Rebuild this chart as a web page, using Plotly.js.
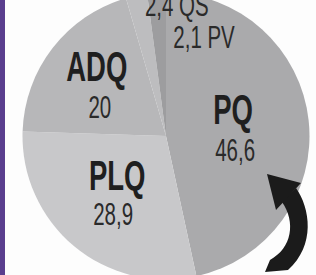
<!DOCTYPE html>
<html>
<head>
<meta charset="utf-8">
<script src="https://cdn.plot.ly/plotly-3.0.1.min.js"></script>
<style>
  html, body { margin:0; padding:0; width:316px; height:275px; overflow:hidden; background:#fdfdfd; }
  #bar { position:absolute; left:0; top:0; width:5px; height:275px; background:#5a3e8e; z-index:2; }
  #chart { position:absolute; left:0; top:-14px; width:316px; height:300px; }
  #chart text.annotation-text { transform-box: fill-box; transform-origin: center; transform: scaleX(0.64); }
</style>
</head>
<body>
<div id="bar"></div>
<div id="chart"></div>
<script>
// ---- data ----
const labels = ['PQ', 'PLQ', 'ADQ', 'QS', 'PV'];
const values = [46.6, 28.9, 20, 2.4, 2.1];

// ---- style ----
const colors = ['#aaaaac', '#c8c8ca', '#b7b7b9', '#bdbdbf', '#9d9d9f'];
const W = 316, H = 300, OFFY = -14;
const px = x => x / W;
const py = y => 1 - (y - OFFY) / H;
const fmt = v => String(v).replace('.', ',');
const FONT = 'Liberation Sans, Arial, sans-serif';

// label positions (page pixels) for name / value per slice
const namePos = { PQ: [233, 109], PLQ: [117, 175], ADQ: [97, 66] };
const valPos  = { PQ: [235, 150], PLQ: [113, 214], ADQ: [100, 107] };
const smallPos = { QS: [177, 5], PV: [204, 37] };

const annotations = [];
labels.forEach((lab, i) => {
  if (namePos[lab]) {
    annotations.push({ text: '<b>' + lab + '</b>', x: px(namePos[lab][0]), y: py(namePos[lab][1]),
      xref: 'paper', yref: 'paper', showarrow: false, xanchor: 'center', yanchor: 'middle',
      font: { family: FONT, size: 43, color: '#1f1f1f' } });
    annotations.push({ text: fmt(values[i]), x: px(valPos[lab][0]), y: py(valPos[lab][1]),
      xref: 'paper', yref: 'paper', showarrow: false, xanchor: 'center', yanchor: 'middle',
      font: { family: FONT, size: 32, color: '#2a2a2a' } });
  } else {
    annotations.push({ text: fmt(values[i]) + ' ' + lab, x: px(smallPos[lab][0]), y: py(smallPos[lab][1]),
      xref: 'paper', yref: 'paper', showarrow: false, xanchor: 'center', yanchor: 'middle',
      font: { family: FONT, size: 32, color: '#2a2a2a' } });
  }
});

function path(pts) {
  return pts.map(p => px(p[0]).toFixed(4) + ',' + py(p[1]).toFixed(4)).join(' ');
}
const shaft = 'M ' + path([[296,188]]) + ' C ' + path([[310,208],[316,245],[288,270]]) +
  ' L ' + path([[265,272]]) + ' L ' + path([[270,260]]) + ' C ' + path([[292,248],[296,222],[282,202]]) + ' Z';
const head = 'M ' + path([[267,174]]) + ' L ' + path([[301,183]]) + ' L ' + path([[276,210]]) + ' Z';

const trace = {
  type: 'pie',
  labels: labels,
  values: values,
  sort: false,
  direction: 'clockwise',
  rotation: 0,
  textinfo: 'none',
  hoverinfo: 'label+value',
  marker: { colors: colors, line: { width: 0 } },
  domain: { x: [(166 - 143.5) / W, (166 + 143.5) / W], y: [0.5 - 143.5 / H, 0.5 + 143.5 / H] },
  showlegend: false
};

const layout = {
  width: W, height: H,
  margin: { l: 0, r: 0, t: 0, b: 0 },
  paper_bgcolor: '#fdfdfd',
  plot_bgcolor: '#fdfdfd',
  showlegend: false,
  annotations: annotations,
  shapes: [
    { type: 'path', xref: 'paper', yref: 'paper', path: shaft, fillcolor: '#1b1b1b', line: { width: 0 } },
    { type: 'path', xref: 'paper', yref: 'paper', path: head, fillcolor: '#1b1b1b', line: { width: 0 } }
  ]
};

Plotly.newPlot('chart', [trace], layout, { displayModeBar: false, staticPlot: true });
</script>
</body>
</html>
